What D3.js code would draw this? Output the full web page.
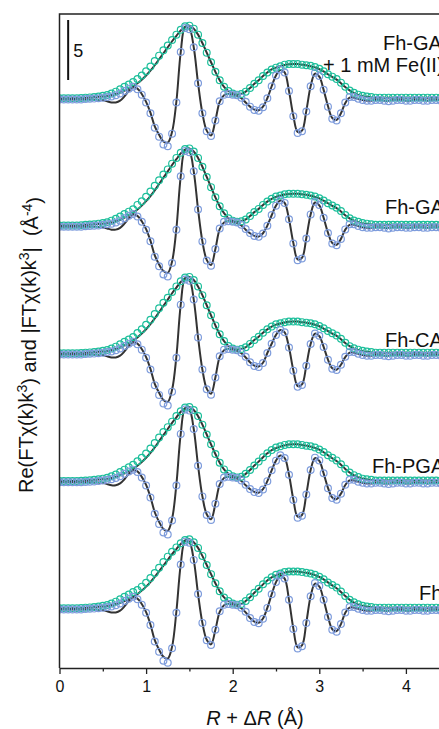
<!DOCTYPE html>
<html>
<head>
<meta charset="utf-8">
<script src="https://cdn.jsdelivr.net/npm/d3@7"></script>
<style>
  body { margin: 0; background: #fff; overflow: hidden; }
  text { font-family: "Liberation Sans", Arial, sans-serif; fill: #111; }
</style>
</head>
<body>
<div id="chart"></div>
<script>
// R + dR grid (Å)
var rValues = [0,0.05,0.1,0.15,0.2,0.25,0.3,0.35,0.4,0.45,
  0.5,0.55,0.6,0.65,0.7,0.75,0.8,0.85,0.9,0.95,
  1,1.05,1.1,1.15,1.2,1.25,1.3,1.35,1.4,1.45,
  1.5,1.55,1.6,1.65,1.7,1.75,1.8,1.85,1.9,1.95,
  2,2.05,2.1,2.15,2.2,2.25,2.3,2.35,2.4,2.45,
  2.5,2.55,2.6,2.65,2.7,2.75,2.8,2.85,2.9,2.95,
  3,3.05,3.1,3.15,3.2,3.25,3.3,3.35,3.4,3.45,
  3.5,3.55,3.6,3.65,3.7,3.75,3.8,3.85,3.9,3.95,
  4,4.05,4.1,4.15,4.2,4.25,4.3,4.35,4.4,4.45];

var xTicks = [0, 1, 2, 3, 4, 5];
var xMinorTicks = [0.5, 1.5, 2.5, 3.5, 4.5];
var scaleBar = 5;

// --- Fh ---
var magFh = [0.15,0.15,0.15,0.15,0.15,0.17,0.2,0.22,0.25,0.3,
  0.35,0.42,0.55,0.7,0.9,1.1,1.3,1.5,1.66,1.95,
  2.28,2.66,3.09,3.52,4.0,4.45,4.85,5.22,5.56,5.84,
  5.89,5.65,5.18,4.51,3.75,2.99,2.23,1.57,1.05,0.75,
  0.55,0.45,0.5,0.75,1.07,1.44,1.77,2.14,2.46,2.73,
  2.94,3.05,3.16,3.21,3.21,3.21,3.16,3.1,3.05,2.94,
  2.78,2.57,2.3,2.09,1.87,1.55,1.18,0.86,0.64,0.48,
  0.35,0.3,0.25,0.2,0.2,0.2,0.2,0.2,0.2,0.2,
  0.2,0.2,0.2,0.2,0.2,0.2,0.2,0.2,0.2,0.2];
var realFh = [0.05,0.05,0.05,0.05,0.05,0.05,0.08,0.1,0.12,0.15,
  0.2,0.25,0.3,0.4,0.55,0.75,0.95,1.1,0.9,0.45,
  -0.23,-1.25,-2.62,-3.48,-4.22,-4.39,-3.19,-0.23,3.8,5.7,
  5.6,4.18,1.33,-1.07,-2.52,-2.91,-1.65,-0.1,0.45,0.5,
  0.45,0.4,0.2,-0.15,-0.67,-1.0,-1.1,-0.73,0.18,1.31,
  2.33,2.9,2.62,0.85,-1.57,-3.2,-3.02,-1.09,1.15,2.25,
  2.0,0.85,-0.58,-1.64,-1.8,-1.17,-0.21,0.25,0.25,0.1,
  0,-0.05,-0.05,0,0,-0.05,-0.1,-0.05,0,0,
  -0.05,-0.05,0,0,-0.05,-0.05,0,0,-0.05,-0.05];
var fitMagFh = [0.15,0.15,0.15,0.15,0.15,0.17,0.2,0.22,0.25,0.28,
  0.3,0.33,0.4,0.5,0.6,0.75,0.9,1.09,1.33,1.62,
  1.95,2.33,2.76,3.23,3.7,4.18,4.66,5.08,5.51,5.8,
  5.89,5.65,5.18,4.51,3.75,2.99,2.23,1.57,1.05,0.75,
  0.55,0.45,0.5,0.75,1.07,1.44,1.77,2.14,2.46,2.73,
  2.89,3.02,3.12,3.19,3.21,3.21,3.16,3.1,3.02,2.91,
  2.76,2.55,2.3,2.05,1.82,1.5,1.16,0.86,0.62,0.45,
  0.34,0.28,0.23,0.2,0.2,0.2,0.2,0.2,0.2,0.2,
  0.2,0.2,0.2,0.2,0.2,0.2,0.2,0.2,0.2,0.2];
var fitRealFh = [0.05,0.05,0.05,0.05,0.05,0.05,0.05,0.05,0.03,0.02,
  0,-0.1,-0.2,-0.2,-0.05,0.3,0.75,1.05,0.95,0.5,
  -0.18,-1.2,-2.5,-3.3,-3.9,-4.05,-3.05,-0.1,3.8,5.75,
  5.65,4.18,1.33,-1.07,-2.48,-2.86,-1.65,-0.15,0.4,0.5,
  0.45,0.35,0.15,-0.2,-0.66,-0.97,-1.06,-0.7,0.18,1.3,
  2.33,2.86,2.62,0.85,-1.52,-3.1,-2.95,-1.05,1.15,2.2,
  1.96,0.85,-0.55,-1.6,-1.75,-1.17,-0.23,0.2,0.2,0.1,
  0,-0.05,-0.05,0,0,-0.05,-0.05,0,0,0,
  -0.05,-0.05,0,0,0,-0.05,0,0,0,-0.05];

// --- Fh-PGA ---
var magPga = [0.15,0.15,0.15,0.15,0.15,0.17,0.2,0.22,0.25,0.3,
  0.35,0.42,0.55,0.7,0.9,1.1,1.3,1.5,1.79,2.09,
  2.45,2.86,3.32,3.77,4.23,4.64,5.1,5.56,5.97,6.27,
  6.32,6.07,5.56,4.85,4.03,3.21,2.4,1.68,1.12,0.75,
  0.55,0.45,0.5,0.75,1.07,1.44,1.77,2.14,2.46,2.73,
  2.94,3.05,3.16,3.21,3.21,3.21,3.16,3.1,3.05,2.94,
  2.78,2.57,2.3,2.09,1.87,1.55,1.18,0.86,0.64,0.48,
  0.35,0.3,0.25,0.2,0.2,0.2,0.2,0.2,0.2,0.2,
  0.2,0.2,0.2,0.2,0.2,0.2,0.2,0.2,0.2,0.2];
var realPga = [0.05,0.05,0.05,0.05,0.05,0.05,0.08,0.1,0.12,0.15,
  0.2,0.25,0.3,0.4,0.55,0.75,0.95,1.1,0.9,0.45,
  -0.22,-1.23,-2.58,-3.42,-4.14,-4.31,-3.14,-0.22,4.08,6.12,
  6.02,4.49,1.43,-1.13,-2.68,-3.09,-1.75,-0.1,0.45,0.5,
  0.45,0.4,0.2,-0.15,-0.52,-0.77,-0.85,-0.56,0.14,1.04,
  1.85,2.3,2.07,0.68,-1.42,-2.9,-2.74,-0.98,1.07,2.1,
  1.87,0.79,-0.45,-1.27,-1.4,-0.9,-0.16,0.25,0.25,0.1,
  0,-0.05,-0.05,0,0,-0.05,-0.1,-0.05,0,0,
  -0.05,-0.05,0,0,-0.05,-0.05,0,0,-0.05,-0.05];
var fitMagPga = [0.15,0.15,0.15,0.15,0.15,0.17,0.2,0.22,0.25,0.28,
  0.3,0.33,0.4,0.5,0.62,0.79,0.96,1.17,1.43,1.73,
  2.09,2.5,2.96,3.47,3.98,4.49,5.0,5.46,5.92,6.22,
  6.32,6.07,5.56,4.85,4.03,3.21,2.4,1.68,1.12,0.75,
  0.55,0.45,0.5,0.75,1.07,1.44,1.77,2.14,2.46,2.73,
  2.89,3.02,3.12,3.19,3.21,3.21,3.16,3.1,3.02,2.91,
  2.76,2.55,2.3,2.05,1.82,1.5,1.16,0.86,0.62,0.45,
  0.34,0.28,0.23,0.2,0.2,0.2,0.2,0.2,0.2,0.2,
  0.2,0.2,0.2,0.2,0.2,0.2,0.2,0.2,0.2,0.2];
var fitRealPga = [0.05,0.05,0.05,0.05,0.05,0.05,0.05,0.05,0.03,0.02,
  0,-0.1,-0.2,-0.2,-0.05,0.3,0.75,1.05,0.95,0.5,
  -0.17,-1.18,-2.45,-3.25,-3.85,-4.0,-3.0,-0.1,4.08,6.17,
  6.07,4.49,1.43,-1.13,-2.62,-3.03,-1.75,-0.15,0.4,0.5,
  0.45,0.35,0.15,-0.2,-0.52,-0.75,-0.82,-0.53,0.14,1.03,
  1.85,2.27,2.07,0.68,-1.38,-2.82,-2.68,-0.95,1.07,2.06,
  1.84,0.79,-0.42,-1.23,-1.36,-0.9,-0.18,0.2,0.2,0.1,
  0,-0.05,-0.05,0,0,-0.05,-0.05,0,0,0,
  -0.05,-0.05,0,0,0,-0.05,0,0,0,-0.05];

// --- Fh-CA ---
var magCa = [0.15,0.15,0.15,0.15,0.15,0.17,0.2,0.22,0.25,0.3,
  0.35,0.42,0.55,0.7,0.9,1.1,1.3,1.5,1.84,2.15,
  2.52,2.94,3.41,3.89,4.36,4.78,5.25,5.72,6.14,6.46,
  6.51,6.25,5.72,4.99,4.15,3.31,2.47,1.73,1.16,0.75,
  0.55,0.45,0.5,0.65,0.93,1.26,1.53,1.86,2.14,2.37,
  2.56,2.65,2.74,2.79,2.79,2.79,2.74,2.7,2.65,2.56,
  2.42,2.23,2.0,1.81,1.63,1.35,1.02,0.74,0.56,0.45,
  0.35,0.3,0.25,0.2,0.2,0.2,0.2,0.2,0.2,0.2,
  0.2,0.2,0.2,0.2,0.2,0.2,0.2,0.2,0.2,0.2];
var realCa = [0.05,0.05,0.05,0.05,0.05,0.05,0.08,0.1,0.12,0.15,
  0.2,0.25,0.3,0.4,0.55,0.75,0.95,1.1,0.9,0.45,
  -0.22,-1.2,-2.51,-3.32,-4.03,-4.2,-3.05,-0.22,4.2,6.3,
  6.2,4.62,1.47,-1.21,-2.86,-3.3,-1.87,-0.11,0.45,0.5,
  0.45,0.4,0.2,-0.15,-0.61,-0.91,-1.0,-0.67,0.17,0.94,
  1.68,2.1,1.89,0.62,-1.3,-2.65,-2.5,-0.9,0.92,1.8,
  1.6,0.68,-0.4,-1.14,-1.25,-0.81,-0.15,0.25,0.25,0.1,
  0,-0.05,-0.05,0,0,-0.05,-0.1,-0.05,0,0,
  -0.05,-0.05,0,0,-0.05,-0.05,0,0,-0.05,-0.05];
var fitMagCa = [0.15,0.15,0.15,0.15,0.15,0.17,0.2,0.22,0.25,0.28,
  0.3,0.33,0.4,0.5,0.62,0.8,0.98,1.2,1.47,1.79,
  2.15,2.57,3.05,3.57,4.1,4.62,5.15,5.62,6.09,6.41,
  6.51,6.25,5.72,4.99,4.15,3.31,2.47,1.73,1.16,0.75,
  0.55,0.45,0.5,0.65,0.93,1.26,1.53,1.86,2.14,2.37,
  2.53,2.63,2.72,2.77,2.79,2.79,2.74,2.7,2.63,2.53,
  2.4,2.21,2.0,1.79,1.6,1.32,1.0,0.74,0.54,0.42,
  0.32,0.27,0.22,0.2,0.2,0.2,0.2,0.2,0.2,0.2,
  0.2,0.2,0.2,0.2,0.2,0.2,0.2,0.2,0.2,0.2];
var fitRealCa = [0.05,0.05,0.05,0.05,0.05,0.05,0.05,0.05,0.03,0.02,
  0,-0.1,-0.2,-0.2,-0.05,0.3,0.75,1.05,0.95,0.5,
  -0.17,-1.15,-2.4,-3.15,-3.75,-3.9,-2.9,-0.1,4.2,6.35,
  6.25,4.62,1.47,-1.21,-2.8,-3.22,-1.87,-0.15,0.4,0.5,
  0.45,0.35,0.15,-0.2,-0.6,-0.88,-0.96,-0.64,0.17,0.94,
  1.68,2.08,1.89,0.62,-1.26,-2.58,-2.45,-0.87,0.92,1.78,
  1.58,0.68,-0.38,-1.1,-1.22,-0.81,-0.17,0.2,0.2,0.1,
  0,-0.05,-0.05,0,0,-0.05,-0.05,0,0,0,
  -0.05,-0.05,0,0,0,-0.05,0,0,0,-0.05];

// --- Fh-GA ---
var magGa = [0.15,0.15,0.15,0.15,0.15,0.17,0.2,0.22,0.25,0.3,
  0.35,0.42,0.55,0.7,0.9,1.1,1.3,1.5,1.86,2.17,
  2.54,2.97,3.45,3.92,4.4,4.82,5.3,5.78,6.2,6.52,
  6.57,6.31,5.78,5.04,4.19,3.34,2.49,1.75,1.17,0.75,
  0.55,0.45,0.5,0.65,0.93,1.26,1.53,1.86,2.14,2.37,
  2.56,2.65,2.74,2.79,2.79,2.79,2.74,2.7,2.65,2.56,
  2.42,2.23,2.0,1.81,1.63,1.35,1.02,0.74,0.56,0.45,
  0.35,0.3,0.25,0.2,0.2,0.2,0.2,0.2,0.2,0.2,
  0.2,0.2,0.2,0.2,0.2,0.2,0.2,0.2,0.2,0.2];
var realGa = [0.05,0.05,0.05,0.05,0.05,0.05,0.08,0.1,0.12,0.15,
  0.2,0.25,0.3,0.4,0.55,0.75,0.95,1.1,0.9,0.45,
  -0.21,-1.17,-2.45,-3.25,-3.94,-4.1,-2.98,-0.21,4.24,6.36,
  6.25,4.66,1.48,-1.18,-2.78,-3.21,-1.82,-0.11,0.45,0.5,
  0.45,0.4,0.2,-0.15,-0.49,-0.73,-0.8,-0.53,0.13,1.01,
  1.8,2.25,2.03,0.66,-1.35,-2.75,-2.6,-0.94,1.07,2.1,
  1.86,0.79,-0.48,-1.36,-1.5,-0.97,-0.18,0.25,0.25,0.1,
  0,-0.05,-0.05,0,0,-0.05,-0.1,-0.05,0,0,
  -0.05,-0.05,0,0,-0.05,-0.05,0,0,-0.05,-0.05];
var fitMagGa = [0.15,0.15,0.15,0.15,0.15,0.17,0.2,0.22,0.25,0.28,
  0.3,0.33,0.4,0.5,0.62,0.8,0.99,1.2,1.48,1.8,
  2.17,2.6,3.07,3.6,4.13,4.66,5.19,5.67,6.15,6.47,
  6.57,6.31,5.78,5.04,4.19,3.34,2.49,1.75,1.17,0.75,
  0.55,0.45,0.5,0.65,0.93,1.26,1.53,1.86,2.14,2.37,
  2.53,2.63,2.72,2.77,2.79,2.79,2.74,2.7,2.63,2.53,
  2.4,2.21,2.0,1.79,1.6,1.32,1.0,0.74,0.54,0.42,
  0.32,0.27,0.22,0.2,0.2,0.2,0.2,0.2,0.2,0.2,
  0.2,0.2,0.2,0.2,0.2,0.2,0.2,0.2,0.2,0.2];
var fitRealGa = [0.05,0.05,0.05,0.05,0.05,0.05,0.05,0.05,0.03,0.02,
  0,-0.1,-0.2,-0.2,-0.05,0.3,0.75,1.05,0.95,0.5,
  -0.16,-1.12,-2.35,-3.1,-3.65,-3.8,-2.85,-0.1,4.24,6.4,
  6.3,4.66,1.48,-1.18,-2.72,-3.15,-1.82,-0.15,0.4,0.5,
  0.45,0.35,0.15,-0.2,-0.5,-0.72,-0.78,-0.5,0.13,1.0,
  1.8,2.22,2.03,0.66,-1.3,-2.68,-2.55,-0.9,1.07,2.06,
  1.83,0.79,-0.45,-1.32,-1.46,-0.97,-0.2,0.2,0.2,0.1,
  0,-0.05,-0.05,0,0,-0.05,-0.05,0,0,0,
  -0.05,-0.05,0,0,0,-0.05,0,0,0,-0.05];

// --- Fh-GA + 1 mM Fe(II) ---
var magGaFe = [0.15,0.15,0.15,0.15,0.15,0.17,0.2,0.22,0.25,0.3,
  0.35,0.42,0.55,0.7,0.9,1.1,1.3,1.5,1.75,2.05,
  2.4,2.8,3.25,3.7,4.15,4.55,5.0,5.45,5.85,6.15,
  6.2,5.95,5.45,4.75,3.95,3.15,2.35,1.65,1.1,0.75,
  0.55,0.45,0.5,0.7,1.0,1.35,1.65,2.0,2.3,2.55,
  2.7,2.82,2.95,3.0,3.0,3.0,2.95,2.9,2.85,2.75,
  2.6,2.4,2.15,1.95,1.75,1.45,1.1,0.8,0.6,0.45,
  0.35,0.3,0.25,0.2,0.2,0.2,0.2,0.2,0.2,0.2,
  0.2,0.2,0.2,0.2,0.2,0.2,0.2,0.2,0.2,0.2];
var realGaFe = [0.05,0.05,0.05,0.05,0.05,0.05,0.08,0.1,0.12,0.15,
  0.2,0.25,0.3,0.4,0.55,0.75,0.95,1.1,0.9,0.45,
  -0.2,-1.1,-2.3,-3.05,-3.7,-3.85,-2.8,-0.2,4.0,6.0,
  5.9,4.4,1.4,-1.1,-2.6,-3.0,-1.7,-0.1,0.45,0.5,
  0.45,0.4,0.2,-0.15,-0.55,-0.82,-0.9,-0.6,0.15,1.15,
  2.05,2.55,2.3,0.75,-1.35,-2.75,-2.6,-0.95,1.15,2.25,
  2.0,0.85,-0.55,-1.55,-1.7,-1.1,-0.2,0.25,0.25,0.1,
  0,-0.05,-0.05,0,0,-0.05,-0.1,-0.05,0,0,
  -0.05,-0.05,0,0,-0.05,-0.05,0,0,-0.05,-0.05];
var fitMagGaFe = [0.15,0.15,0.15,0.15,0.15,0.17,0.2,0.22,0.25,0.28,
  0.3,0.33,0.4,0.5,0.62,0.78,0.95,1.15,1.4,1.7,
  2.05,2.45,2.9,3.4,3.9,4.4,4.9,5.35,5.8,6.1,
  6.2,5.95,5.45,4.75,3.95,3.15,2.35,1.65,1.1,0.75,
  0.55,0.45,0.5,0.7,1.0,1.35,1.65,2.0,2.3,2.55,
  2.7,2.82,2.92,2.98,3.0,3.0,2.95,2.9,2.82,2.72,
  2.58,2.38,2.15,1.92,1.7,1.4,1.08,0.8,0.58,0.42,
  0.32,0.27,0.22,0.2,0.2,0.2,0.2,0.2,0.2,0.2,
  0.2,0.2,0.2,0.2,0.2,0.2,0.2,0.2,0.2,0.2];
var fitRealGaFe = [0.05,0.05,0.05,0.05,0.05,0.05,0.05,0.05,0.03,0.02,
  0,-0.1,-0.2,-0.2,-0.05,0.3,0.75,1.05,0.95,0.5,
  -0.15,-1.05,-2.2,-2.9,-3.45,-3.55,-2.65,-0.1,4.0,6.05,
  5.95,4.4,1.4,-1.1,-2.55,-2.95,-1.7,-0.15,0.4,0.5,
  0.45,0.35,0.15,-0.2,-0.55,-0.8,-0.85,-0.55,0.15,1.15,
  2.05,2.5,2.3,0.75,-1.3,-2.65,-2.55,-0.9,1.15,2.2,
  1.95,0.85,-0.5,-1.5,-1.65,-1.1,-0.25,0.2,0.2,0.1,
  0,-0.05,-0.05,0,0,-0.05,-0.05,0,0,0,
  -0.05,-0.05,0,0,0,-0.05,0,0,0,-0.05];

var sampleNames = [["Fh"], ["Fh-PGA"], ["Fh-CA"], ["Fh-GA"], ["Fh-GA", "+ 1 mM Fe(II)"]];
var offsets = [0, 10.6, 21.25, 31.9, 42.5];

var spectra = [
  { name: sampleNames[0], offset: offsets[0], mag: magFh, real: realFh, fitMag: fitMagFh, fitReal: fitRealFh },
  { name: sampleNames[1], offset: offsets[1], mag: magPga, real: realPga, fitMag: fitMagPga, fitReal: fitRealPga },
  { name: sampleNames[2], offset: offsets[2], mag: magCa, real: realCa, fitMag: fitMagCa, fitReal: fitRealCa },
  { name: sampleNames[3], offset: offsets[3], mag: magGa, real: realGa, fitMag: fitMagGa, fitReal: fitRealGa },
  { name: sampleNames[4], offset: offsets[4], mag: magGaFe, real: realGaFe, fitMag: fitMagGaFe, fitReal: fitRealGaFe }
];

// label placement (px): start x and line baselines relative to spectrum baseline
var labelPos = [
  { x: [419], dy: [-10] },
  { x: [372], dy: [-10] },
  { x: [385], dy: [-8] },
  { x: [385], dy: [-13] },
  { x: [383, 323], dy: [-50, -28] }
];

var W = 439, H = 729,
  plot = { left: 59.5, right: 492.5, top: 14, bottom: 668 },
  green = "#1dbf9b",
  blue = "#7e9cdc",
  dark = "#333333";

var svg = d3.select("#chart").append("svg")
  .attr("width", W)
  .attr("height", H);

var x = d3.scaleLinear().domain([0, 5]).range([plot.left, plot.right]);
var y = d3.scaleLinear().domain([-4.83, 49.67]).range([plot.bottom, plot.top]);

svg.append("clipPath").attr("id", "clip")
  .append("rect")
  .attr("x", plot.left).attr("y", plot.top)
  .attr("width", plot.right - plot.left).attr("height", plot.bottom - plot.top);

var g = svg.append("g").attr("clip-path", "url(#clip)");

spectra.forEach(function (s) {
  var line = d3.line()
    .x(function (d, i) { return x(rValues[i]); })
    .y(function (d) { return y(d + s.offset); })
    .curve(d3.curveCatmullRom);

  // fits
  g.append("path").datum(s.fitMag)
    .attr("d", line).attr("fill", "none")
    .attr("stroke", dark).attr("stroke-width", 2);
  g.append("path").datum(s.fitReal)
    .attr("d", line).attr("fill", "none")
    .attr("stroke", dark).attr("stroke-width", 2);

  // data
  g.append("g").selectAll("circle")
    .data(s.mag).enter().append("circle")
    .attr("cx", function (d, i) { return x(rValues[i]); })
    .attr("cy", function (d) { return y(d + s.offset); })
    .attr("r", 3.4)
    .attr("fill", "none")
    .attr("stroke", green).attr("stroke-width", 1.2);

  g.append("g").selectAll("circle")
    .data(s.real).enter().append("circle")
    .attr("cx", function (d, i) { return x(rValues[i]); })
    .attr("cy", function (d) { return y(d + s.offset); })
    .attr("r", 3.4)
    .attr("fill", "none")
    .attr("stroke", blue).attr("stroke-width", 1.2);
});

// sample labels
spectra.forEach(function (s, k) {
  s.name.forEach(function (t, j) {
    svg.append("text")
      .attr("x", labelPos[k].x[j])
      .attr("y", y(s.offset) + labelPos[k].dy[j])
      .style("font-size", "20px")
      .text(t);
  });
});

// frame
svg.append("path")
  .attr("d", "M" + plot.left + "," + plot.bottom + "V" + plot.top + "H" + plot.right)
  .attr("fill", "none").attr("stroke", "#222").attr("stroke-width", 1.5);

// x axis
var xAxis = svg.append("g")
  .attr("transform", "translate(0," + plot.bottom + ")")
  .call(d3.axisBottom(x).tickValues(xTicks).tickFormat(d3.format("d")).tickSize(6).tickSizeOuter(0));
xAxis.select(".domain").attr("stroke", "#222").attr("stroke-width", 1.5);
xAxis.selectAll(".tick line").attr("stroke", "#222").attr("stroke-width", 1.3);
xAxis.selectAll(".tick text")
  .attr("y", 13).attr("dy", "0.71em")
  .style("font-size", "16px")
  .style("font-family", "'Liberation Sans', Arial, sans-serif")
  .attr("fill", "#111");

svg.append("g")
  .attr("transform", "translate(0," + plot.bottom + ")")
  .call(d3.axisBottom(x).tickValues(xMinorTicks).tickSize(3.5).tickFormat(""))
  .call(function (a) { a.select(".domain").remove(); })
  .selectAll(".tick line").attr("stroke", "#222").attr("stroke-width", 1.3);

// scale bar
var barX = x(0.1);
svg.append("line")
  .attr("x1", barX).attr("x2", barX)
  .attr("y1", y(49.17)).attr("y2", y(49.17 - scaleBar))
  .attr("stroke", "#111").attr("stroke-width", 2);
svg.append("text")
  .attr("x", barX + 5).attr("y", (y(49.17) + y(49.17 - scaleBar)) / 2 + 6.5)
  .style("font-size", "18px")
  .text(scaleBar);

// x title
var xt = svg.append("text")
  .attr("x", 255).attr("y", 725)
  .attr("text-anchor", "middle")
  .style("font-size", "20px");
xt.append("tspan").style("font-style", "italic").text("R");
xt.append("tspan").text(" + Δ");
xt.append("tspan").style("font-style", "italic").text("R");
xt.append("tspan").text(" (Å)");

// y title
var yt = svg.append("text")
  .attr("transform", "translate(33,345) rotate(-90)")
  .attr("text-anchor", "middle")
  .style("font-size", "20px")
  .style("white-space", "pre");
yt.append("tspan").text("Re(FTχ(k)k");
yt.append("tspan").attr("dy", "-0.45em").style("font-size", "14px").text("3");
yt.append("tspan").attr("dy", "0.45em").text(") and |FTχ(k)k");
yt.append("tspan").attr("dy", "-0.45em").style("font-size", "14px").text("3");
yt.append("tspan").attr("dy", "0.45em").text("|  (Å");
yt.append("tspan").attr("dy", "-0.45em").style("font-size", "14px").text("-4");
yt.append("tspan").attr("dy", "0.45em").text(")");
</script>
</body>
</html>
